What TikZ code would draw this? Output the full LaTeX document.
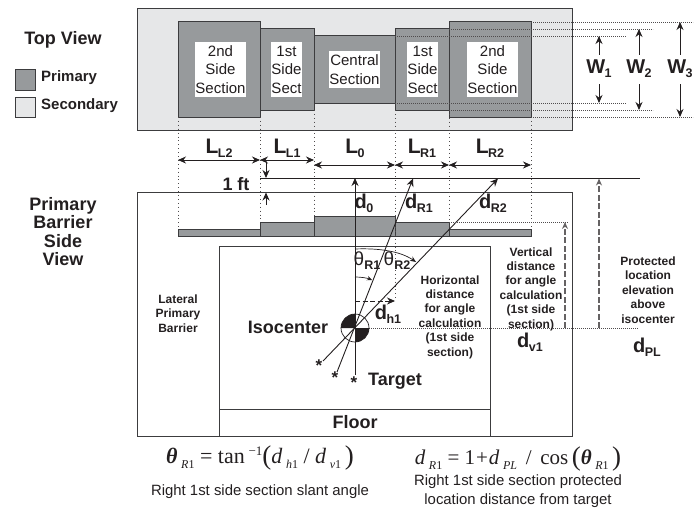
\documentclass[tikz,border=0pt]{standalone}
\usepackage{fontspec}
\setmainfont{Liberation Sans}
\newfontfamily\eqfont{Liberation Serif}
\usetikzlibrary{arrows.meta}
\definecolor{prim}{HTML}{979A9C}
\definecolor{sec}{HTML}{E6E7E8}
\definecolor{ink}{HTML}{231F20}
\definecolor{edge}{HTML}{3C3C3E}
\newcommand{\fsz}[1]{\fontsize{#1}{#1}\selectfont}
\newcommand{\lab}[3]{{\fsz{#1}\bfseries #2\raisebox{-0.2em}{\fsz{12.5}\bfseries\kern-0.5pt #3}}}
\newcommand{\rectn}[6]{\node[#1,minimum width={(#4-#3)*1pt},minimum height={(#6-#5)*1pt}] (#2) at ({(#3+#4)/2},{(#5+#6)/2}) {};}
\newcommand{\eqsb}[2]{\,\raisebox{-5pt}{\fsz{12}\textit{#1}#2}}
\newcommand{\eqd}{\textit{d}}
\newcommand{\bigp}[1]{{\fsz{27}\raisebox{-1pt}{#1}}}
\tikzset{
  block/.style={draw=edge,line width=1pt,fill=prim,inner sep=0,outer sep=0},
  panel/.style={draw=edge,line width=0.9pt,fill=sec,inner sep=0,outer sep=0},
  plain/.style={draw=edge,line width=0.9pt,inner sep=0,outer sep=0},
  seclabel/.style={fill=white,inner sep=0,align=center,font=\fsz{15},text=ink,text depth=0pt},
  bold/.style={font=\fsz{18}\bfseries,text=ink,inner sep=0,align=center},
  note/.style={font=\fsz{12}\bfseries,text=ink,inner sep=0},
  plaintext/.style={font=\fsz{14.9},text=ink,inner sep=0},
  dots/.style={draw=ink!80,line width=0.55pt,dash pattern=on 0.8pt off 1.2pt},
  vdots/.style={draw=ink!80,line width=0.6pt,dash pattern=on 0.9pt off 3pt},
  tip/.style={-{Stealth[length=8pt,width=7pt]},draw=ink,line width=0.9pt},
  dbl/.style={{Stealth[length=8pt,width=7pt]}-{Stealth[length=8pt,width=7pt]},draw=ink,line width=0.9pt},
  dashline/.style={-{Stealth[length=7pt,width=6pt]},draw=ink!70,line width=1.1pt,dash pattern=on 6pt off 2.5pt},
  ray/.style={-{Stealth[length=8pt,width=7pt]},draw=ink,line width=0.9pt},
}
\begin{document}
\begin{tikzpicture}[x=1pt,y=-1pt]
\useasboundingbox (0,0) rectangle (695,511);

% ---------- Top view
\rectn{panel}{topbox}{137}{572}{8}{130}
\rectn{block}{tlb}{260}{314}{29}{110}
\rectn{block}{tla}{178}{260}{22}{117}
\rectn{block}{tc}{314}{395}{36}{103}
\rectn{block}{trb}{395}{449}{29}{110}
\rectn{block}{tra}{449}{531}{22}{117}

\node[seclabel,minimum width=51pt,minimum height=55pt] (s1) at (220.5,69.5) {2nd\\[3.5pt]Side\\[3.5pt]Section};
\node[seclabel,minimum width=31pt,minimum height=55pt] (s2) at (286.5,69.5) {1st\\[3.5pt]Side\\[3.5pt]Sect};
\node[seclabel,minimum width=51pt,minimum height=37pt] (s3) at (354.5,69.5) {Central\\[3.5pt]Section};
\node[seclabel,minimum width=31pt,minimum height=55pt] (s4) at (422.5,69.5) {1st\\[3.5pt]Side\\[3.5pt]Sect};
\node[seclabel,minimum width=51pt,minimum height=55pt] (s5) at (492.5,69.5) {2nd\\[3.5pt]Side\\[3.5pt]Section};

% width guide lines
\coordinate (e1) at (626,36); \coordinate (e2) at (653,29); \coordinate (e3) at (693,22);
\coordinate (f1) at (626,103); \coordinate (f2) at (653,110); \coordinate (f3) at (693,117);
\draw[dots] (trb.north west |- e1) -- (e1);
\draw[dots] (trb.north east) -- (e2);
\draw[dots] (tra.north east) -- (e3);
\draw[dots] (trb.south west |- f1) -- (f1);
\draw[dots] (trb.south east) -- (f2);
\draw[dots] (tra.south east) -- (f3);

\node[inner sep=0,text=ink] (w1) at (599,69) {\lab{20}{W}{1}};
\node[inner sep=0,text=ink] (w2) at (639,69) {\lab{20}{W}{2}};
\node[inner sep=0,text=ink] (w3) at (680,69) {\lab{20}{W}{3}};
\draw[tip] (599,55) -- (599,36);
\draw[tip] (599,84) -- (599,103);
\draw[tip] (639,55) -- (639,29);
\draw[tip] (639,84) -- (639,110);
\draw[tip] (680,55) -- (680,22);
\draw[tip] (680,84) -- (680,117);

% ---------- Side view
\rectn{plain}{sidebox}{137}{572}{192}{436}
\rectn{plain}{room}{219}{490}{246}{436}
\coordinate (fl) at (219,409); \coordinate (fr) at (490,409);
\draw[draw=edge,line width=1pt] (fl) -- (fr);
\rectn{block}{b3}{178}{531}{229}{236}
\rectn{block}{b2}{260}{449}{222}{236}
\rectn{block}{b1}{314}{395}{216}{236}

% vertical guides
\draw[vdots] (tla.south west) -- (b3.north west);
\draw[vdots] (tla.south east) -- (b2.north west);
\draw[vdots] (tlb.south east) -- (b1.north west);
\coordinate (g4) at (395,301);
\draw[vdots] (trb.south west) -- (g4);
\draw[vdots] (trb.south east) -- (b2.north east);
\draw[vdots] (tra.south east) -- (b3.north east);

% length dimensions
\coordinate (a0) at (178,160); \coordinate (a1) at (260,160); \coordinate (a2) at (314,160);
\coordinate (c2) at (314,165); \coordinate (c3) at (395,165); \coordinate (c4) at (449,165); \coordinate (c5) at (531,165);
\draw[dbl] (a0) -- (a1);
\draw[dbl] (a1) -- (a2);
\draw[dbl] (c2) -- (c3);
\draw[dbl] (c3) -- (c4);
\draw[dbl] (c4) -- (c5);
\node[inner sep=0,text=ink] (ll2) at (219,148) {\lab{21}{L}{L2}};
\node[inner sep=0,text=ink] (ll1) at (287,148) {\lab{21}{L}{L1}};
\node[inner sep=0,text=ink] (l0) at (355,148) {\lab{21}{L}{0}};
\node[inner sep=0,text=ink] (lr1) at (422,148) {\lab{21}{L}{R1}};
\node[inner sep=0,text=ink] (lr2) at (490,148) {\lab{21}{L}{R2}};

% 1 ft line
\coordinate (pl) at (260,178); \coordinate (pr) at (640,178);
\draw[draw=ink,line width=0.9pt] (pl) -- (pr);
\node[bold] (oneft) at (236,184) {1 ft};
\draw[tip] (266,162) -- (266,178);
\draw[tip] (266,205) -- (266,192.5);

% isocenter
\coordinate (iso) at (355,328);
\draw[dots] (iso) -- (638,328);
\fill[white] (iso) circle (14);
\fill[ink] (iso) -- (341,328) arc[start angle=180,end angle=90,x radius=14,y radius=-14] -- cycle;
\fill[ink] (iso) -- (369,328) arc[start angle=0,end angle=-90,x radius=14,y radius=-14] -- cycle;
\draw[draw=ink,line width=0.7pt] (iso) circle (14);

% targets and rays
\node[inner sep=0,font=\fsz{17}\bfseries,text=ink] (t0) at (354,383) {*};
\node[inner sep=0,font=\fsz{17}\bfseries,text=ink] (t1) at (335,378) {*};
\node[inner sep=0,font=\fsz{17}\bfseries,text=ink] (t2) at (319,366) {*};
\coordinate (r0) at (355,178); \coordinate (r1) at (413,178.5); \coordinate (r2) at (498,178.5);
\coordinate (s0) at (355,375); \coordinate (s1a) at (337,372); \coordinate (s2a) at (323,361);
\draw[ray] (s0) -- (r0);
\draw[ray] (s1a) -- (r1);
\draw[ray] (s2a) -- (r2);

% angle arcs
\coordinate (th2a) at (355,249); \coordinate (th2b) at (416,262);
\coordinate (th1a) at (355,277); \coordinate (th1b) at (372,280);
\draw[-{Stealth[length=6pt,width=5pt]},draw=ink,line width=0.7pt] (th2a) .. controls (378,248) and (400,251) .. (th2b);
\draw[-{Stealth[length=5pt,width=4.5pt]},draw=ink,line width=0.7pt] (th1a) .. controls (361,277) and (367,278) .. (th1b);
\node[inner sep=0,text=ink] (thr1) at (367,261) {\fsz{19}θ\raisebox{-0.2em}{\fsz{12.5}\bfseries R1}};
\node[inner sep=0,text=ink] (thr2) at (397,261) {\fsz{19}θ\raisebox{-0.2em}{\fsz{12.5}\bfseries R2}};

% dh1
\draw[tip,dash pattern=on 5pt off 2.5pt] (iso |- g4) -- (g4);
\node[inner sep=0,text=ink] (dh1) at (388,314) {\lab{20}{d}{h1}};

% d labels
\node[inner sep=0,text=ink] (d0) at (364,203) {\lab{20}{d}{0}};
\node[inner sep=0,text=ink] (dr1) at (419,203) {\lab{20}{d}{R1}};
\node[inner sep=0,text=ink] (dr2) at (493,203) {\lab{20}{d}{R2}};
\node[inner sep=0,text=ink] (dv1) at (530,342) {\lab{20}{d}{v1}};
\node[inner sep=0,text=ink] (dpl) at (647,347) {\lab{20}{d}{PL}};

% vertical dashed
\coordinate (v1a) at (565,328); \coordinate (v1b) at (565,222);
\coordinate (v2a) at (599,328); \coordinate (v2b) at (599,178.5);
\draw[dots] (b2.north east) -- (568,222);
\draw[dashline] (v1a) -- (v1b);
\draw[dashline] (v2a) -- (v2b);

% notes
\node[note,align=center] (horiz) at (450,317) {Horizontal\\[2.4pt]distance\\[2.4pt]for angle\\[2.4pt]calculation\\[2.4pt](1st side\\[2.4pt]section)};
\node[note,align=center] (vert) at (531,289) {Vertical\\[2.4pt]distance\\[2.4pt]for angle\\[2.4pt]calculation\\[2.4pt](1st side\\[2.4pt]section)};
\node[note,align=center] (prot) at (648,290) {Protected\\[2.4pt]location\\[2.4pt]elevation\\[2.4pt]above\\[2.4pt]isocenter};
\node[note,align=center] (lat) at (178,313.5) {Lateral\\[2.4pt]Primary\\[2.4pt]Barrier};

\node[bold] (isol) at (288,327) {Isocenter};
\node[bold] (targ) at (395,381) {Target};
\node[bold] (floor) at (355,422) {Floor};

% left captions
\node[bold] (topv) at (63,40) {Top View};
\rectn{block}{lg1}{15}{35}{69}{90}
\rectn{panel}{lg2}{15}{35}{97}{117}
\node[inner sep=0,anchor=west,font=\fsz{15}\bfseries,text=ink] (lgt1) at (41,78) {Primary};
\node[inner sep=0,anchor=west,font=\fsz{15}\bfseries,text=ink] (lgt2) at (41,106) {Secondary};
\node[bold,align=center] (pbsv) at (63,231.5) {Primary\\[0.5pt]Barrier\\[0.5pt]Side\\[0.5pt]View};

% equations
\node[inner sep=0,text=ink,font=\eqfont\fsz{22}] (eq1) at (260,458) {{\bfseries\itshape θ}\eqsb{R}{1} = tan\,\raisebox{8pt}{\fsz{13}−1}\bigp{(}\eqd\eqsb{h}{1} / \eqd\eqsb{v}{1}\,\bigp{)}};
\node[inner sep=0,text=ink,font=\eqfont\fsz{21}] (eq2) at (518,459) {\eqd\eqsb{R}{1} = 1\kern1pt+\kern1pt\eqd\eqsb{PL}{}\ \,/\ \,cos\,\bigp{(}{\bfseries\itshape θ}\eqsb{R}{1}\,\bigp{)}};
\node[plaintext] (cap1) at (260,492) {Right 1st side section slant angle};
\node[plaintext] (cap2) at (518,482) {Right 1st side section protected};
\node[plaintext] (cap3) at (518,501) {location distance from target};
\end{tikzpicture}
\end{document}
